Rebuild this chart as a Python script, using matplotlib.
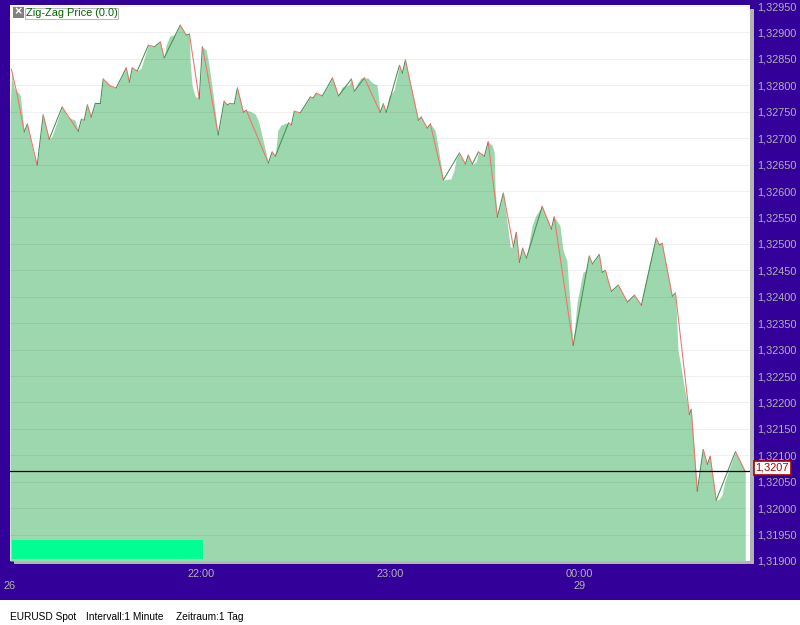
import matplotlib
matplotlib.use("Agg")
import matplotlib.pyplot as plt
from matplotlib.patches import Rectangle

plt.rcParams['font.family'] = ['Liberation Sans', 'DejaVu Sans']

W, H = 800, 625
PURPLE = '#330099'
GREY = '#b3b3b3'

# minutes since 21:00, prices in 1e-5
zigzag_min = [0.0, 1.9, 4.1, 5.1, 8.2, 10.1, 12.0, 16.1, 21.2, 22.2, 23.1, 24.1, 25.3, 26.6, 28.2, 29.1,
              31.3, 33.2, 36.4, 37.4, 38.3, 39.9, 43.4, 45.3, 47.2, 48.4, 53.5, 55.4, 56.4, 59.5, 60.5, 62.3,
              65.5, 67.4, 68.4, 69.3, 70.6, 71.6, 73.5, 74.4, 81.4, 82.6, 83.6, 87.8, 88.7, 89.6, 91.5, 94.7,
              95.6, 96.6, 98.5, 101.7, 103.6, 107.7, 108.6, 111.8, 116.8, 117.8, 118.7, 122.9, 123.8, 124.8,
              128.9, 129.8, 131.7, 132.7, 136.8, 141.9, 143.8, 144.7, 146.0, 147.9, 149.8, 151.0, 153.9, 155.8,
              159.0, 159.9, 160.9, 161.9, 163.1, 168.1, 171.0, 171.9, 177.9, 183.0, 184.0, 186.2, 187.1, 188.1,
              190.0, 192.2, 195.1, 197.3, 199.5, 204.2, 205.2, 206.1, 209.3, 210.3, 214.7, 215.3, 217.2, 219.1,
              220.4, 221.3, 223.2, 229.3, 232.2]
zigzag_price = [132831, 132782, 132712, 132727, 132649, 132744, 132698, 132759, 132713, 132736, 132734, 132763,
                132740, 132766, 132766, 132812, 132799, 132795, 132833, 132806, 132833, 132827, 132876, 132873,
                132882, 132852, 132914, 132895, 132897, 132774, 132873, 132816, 132706, 132770, 132763, 132766,
                132765, 132795, 132749, 132753, 132653, 132674, 132666, 132729, 132725, 132751, 132748, 132778,
                132776, 132785, 132780, 132814, 132780, 132812, 132789, 132814, 132749, 132765, 132749, 132838,
                132823, 132848, 132734, 132740, 132719, 132727, 132621, 132672, 132651, 132668, 132651, 132674,
                132666, 132693, 132551, 132596, 132494, 132522, 132465, 132492, 132473, 132571, 132528, 132551,
                132308, 132477, 132462, 132480, 132446, 132450, 132410, 132422, 132390, 132403, 132384, 132511,
                132498, 132501, 132401, 132407, 132177, 132187, 132032, 132111, 132083, 132098, 132015, 132107,
                132071]

area_min = [-0.4, 0.1, 0.9, 2.8, 4.1, 5.1, 6.9, 8.2, 10.1, 12.0, 12.9, 16.1, 17.9, 20.2, 21.2, 22.2, 23.1, 24.1,
            25.3, 26.6, 28.2, 29.1, 31.3, 33.2, 36.4, 37.4, 38.3, 39.9, 41.1, 43.4, 45.3, 47.2, 48.4, 49.0, 50.2,
            52.1, 53.5, 55.4, 56.4, 56.6, 57.2, 58.2, 59.5, 60.1, 60.5, 61.7, 62.6, 63.9, 65.5, 67.4, 68.4, 69.3,
            70.6, 71.6, 73.5, 74.4, 75.6, 77.2, 78.4, 79.7, 81.4, 82.6, 83.6, 84.4, 85.4, 87.0, 88.7, 89.6, 91.5,
            94.7, 95.6, 96.6, 98.5, 101.7, 102.5, 103.6, 104.7, 106.9, 107.7, 108.6, 109.5, 110.7, 112.9, 114.5,
            115.8, 116.8, 117.8, 118.7, 119.6, 121.2, 122.9, 123.8, 124.8, 128.9, 129.8, 131.7, 132.7, 134.2,
            134.8, 136.8, 139.2, 140.2, 140.8, 141.9, 143.8, 144.7, 146.0, 147.2, 147.9, 149.8, 151.0, 152.2,
            152.9, 153.2, 153.9, 155.8, 158.0, 159.0, 159.9, 160.9, 161.9, 163.1, 164.9, 166.1, 168.1, 171.0,
            171.9, 173.7, 174.7, 175.9, 176.6, 177.9, 179.1, 181.0, 182.0, 183.0, 184.0, 186.2, 187.1, 188.1,
            190.0, 192.2, 195.1, 197.3, 199.5, 200.6, 202.2, 204.2, 205.2, 206.1, 209.3, 210.3, 211.1, 212.1,
            213.0, 214.7, 215.3, 217.2, 219.1, 220.4, 221.3, 223.2, 224.1, 225.0, 226.0, 229.3, 232.4]
area_price = [132753, 132825, 132795, 132782, 132712, 132727, 132674, 132649, 132744, 132698, 132704, 132759,
              132740, 132734, 132713, 132736, 132734, 132763, 132740, 132766, 132766, 132812, 132799, 132795,
              132833, 132806, 132833, 132827, 132833, 132876, 132873, 132882, 132852, 132876, 132893, 132897,
              132914, 132895, 132897, 132848, 132801, 132780, 132774, 132825, 132873, 132867, 132838, 132782,
              132706, 132770, 132763, 132766, 132765, 132795, 132749, 132753, 132751, 132746, 132730, 132696,
              132653, 132674, 132666, 132715, 132725, 132729, 132725, 132751, 132748, 132778, 132776, 132785,
              132780, 132814, 132801, 132780, 132797, 132801, 132812, 132789, 132803, 132814, 132814, 132804,
              132801, 132749, 132765, 132749, 132780, 132791, 132838, 132823, 132848, 132734, 132740, 132719,
              132727, 132715, 132696, 132621, 132623, 132640, 132660, 132672, 132651, 132668, 132651, 132655,
              132674, 132666, 132693, 132687, 132674, 132602, 132551, 132596, 132494, 132494, 132522, 132465,
              132492, 132473, 132535, 132554, 132571, 132528, 132551, 132535, 132488, 132469, 132412, 132308,
              132388, 132446, 132450, 132477, 132462, 132480, 132446, 132450, 132410, 132422, 132390, 132403,
              132384, 132422, 132465, 132511, 132498, 132501, 132401, 132407, 132299, 132265, 132232, 132177,
              132187, 132032, 132111, 132083, 132098, 132015, 132017, 132024, 132052, 132107, 132071]

y_ticks = [1.319 + 0.0005 * i for i in range(22)]
y_labels = ['1,%05d' % round((t - 1) * 100000) for t in y_ticks]
x_ticks = [-0.4, 60, 120, 180]
x_labels = ['\n26', '22:00', '23:00', '00:00\n29']
last_price = 1.3207


def box(ax_or_fig, x0, y0, x1, y1, **kw):
    # rectangle given in image pixels, top left origin
    r = Rectangle((x0 / W, 1 - y1 / H), (x1 - x0) / W, (y1 - y0) / H, transform=fig.transFigure, **kw)
    ax_or_fig.add_artist(r)
    return r


fig = plt.figure(figsize=(8, 6.25), dpi=100, facecolor='white')
box(fig, 0, 0, W, 600, facecolor=PURPLE, edgecolor='none', zorder=-5)
box(fig, 754 - 740, 561, 754, 563.5, facecolor=GREY, edgecolor='none', zorder=-4)
box(fig, 750, 9, 754, 563.5, facecolor=GREY, edgecolor='none', zorder=-4)

ax = fig.add_axes([10 / W, 1 - 561 / H, 740 / W, 556 / H])
ax.set_facecolor('white')
for s in ax.spines.values():
    s.set_visible(False)

ax.set_xlim(-0.41, 233.9)
ax.set_ylim(1.319, 1.32952)

ax.fill_between(area_min, [p / 100000 for p in area_price], 1.319, color='#9dd7ad', linewidth=0, zorder=1)

ax.set_yticks(y_ticks)
ax.set_yticklabels(y_labels)
ax.yaxis.tick_right()
ax.set_xticks(x_ticks)
ax.set_xticklabels(x_labels, linespacing=1.35)
ax.tick_params(axis='y', length=0, pad=5, labelsize=7.8, labelcolor=GREY)
ax.tick_params(axis='x', length=0, pad=5.5, labelsize=7.9, labelcolor=GREY)
ax.set_axisbelow(False)
ax.grid(axis='y', color='black', alpha=0.06, linewidth=0.72)
ax.grid(axis='x', visible=False)

# falling legs red, rising legs green
for i in range(len(zigzag_min) - 1):
    y0 = zigzag_price[i] / 100000
    y1 = zigzag_price[i + 1] / 100000
    c = '#f4706a' if y1 < y0 else '#458f55'
    ax.plot(zigzag_min[i:i + 2], [y0, y1], color=c, linewidth=0.75, zorder=3, solid_capstyle='round')

ax.axhline(last_price, color='#000022', linewidth=0.9, zorder=4)

# last price tag
fig.text(771.5 / W, 1 - 468 / H, '1,3207', color='#aa0000', fontsize=7.9, ha='center', va='center', zorder=6)
box(fig, 753.5, 461, 790.5, 475, facecolor='white', edgecolor='#aa0000', linewidth=1.2, zorder=5)

# status bar bottom left
box(fig, 12, 540, 203, 559, facecolor='#00ff90', edgecolor='none', zorder=5)

# legend entry
box(fig, 13, 7, 24, 18, facecolor='#808080', edgecolor='none', zorder=5)
fig.text(18.5 / W, 1 - 12.5 / H, '×', color='white', fontsize=9, fontweight='bold', ha='center', va='center', zorder=6)
box(fig, 24.5, 7.5, 117.5, 18.5, facecolor='white', edgecolor='#bbbbbb', linewidth=0.8, zorder=5)
fig.text(25.5 / W, 1 - 13 / H, 'Zig-Zag Price (0.0)', color='#006600', fontsize=7.9, ha='left', va='center', zorder=6)

# footer
fig.text(10 / W, 1 - 616.5 / H, 'EURUSD Spot', color='black', fontsize=7.3, ha='left', va='center')
fig.text(86 / W, 1 - 616.5 / H, 'Intervall:1 Minute', color='black', fontsize=7.3, ha='left', va='center')
fig.text(176 / W, 1 - 616.5 / H, 'Zeitraum:1 Tag', color='black', fontsize=7.3, ha='left', va='center')

fig.savefig('out.png', dpi=100, facecolor='white')
